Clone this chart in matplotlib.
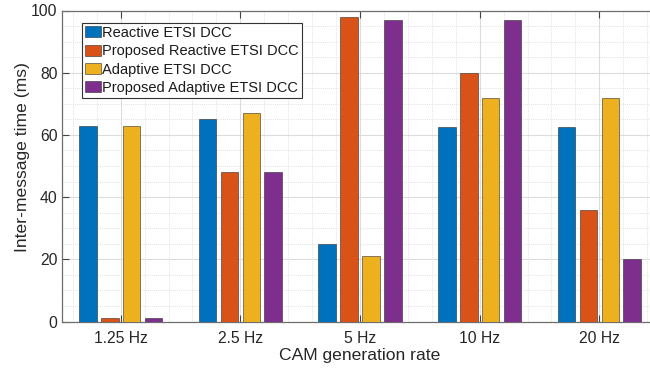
import matplotlib
matplotlib.use("Agg")
import matplotlib.pyplot as plt
import numpy as np
from matplotlib.ticker import MultipleLocator

plt.rcParams['font.family'] = ['Liberation Sans', 'DejaVu Sans']

rates = ["1.25 Hz", "2.5 Hz", "5 Hz", "10 Hz", "20 Hz"]
reactive = [63, 65, 25, 62.5, 62.5]
proposed_reactive = [1, 48, 98, 80, 36]
adaptive = [63, 67, 21, 72, 72]
proposed_adaptive = [1, 48, 97, 97, 20]

series = [
    ("Reactive ETSI DCC", reactive, "#0072BD"),
    ("Proposed Reactive ETSI DCC", proposed_reactive, "#D95319"),
    ("Adaptive ETSI DCC", adaptive, "#EDB120"),
    ("Proposed Adaptive ETSI DCC", proposed_adaptive, "#7E2F8E"),
]

W, H = 650, 372
fig = plt.figure(figsize=(W / 100, H / 100), dpi=100)
left, right, top, bottom = 62.3, 658.0, 10.5, 321.5
ax = fig.add_axes([left / W, 1 - bottom / H, (right - left) / W, (bottom - top) / H])

x = np.arange(1, len(rates) + 1)
step = 0.183
width = 0.147
for i, (name, vals, col) in enumerate(series):
    ax.bar(x + (i - 1.5) * step, vals, width, color=col, label=name,
           edgecolor=(0.15, 0.15, 0.15, 0.55), linewidth=0.7, zorder=3)

ax.set_xlim(0.512, 5.49)
ax.set_ylim(0, 100)
ax.set_xticks(x)
ax.set_xticklabels(rates)
ax.yaxis.set_major_locator(MultipleLocator(20))
ax.yaxis.set_minor_locator(MultipleLocator(5))
ax.xaxis.set_minor_locator(MultipleLocator(0.2))

ax.grid(which='major', color='#dcdcdc', linewidth=0.8, linestyle='-', zorder=0)
ax.grid(which='minor', color='#d8d8d8', linewidth=0.6, linestyle=(0, (1, 1.5)), zorder=0)
ax.set_axisbelow(True)

spine_col = '#6e6e6e'
for s in ax.spines.values():
    s.set_color(spine_col)
    s.set_linewidth(0.9)
ax.tick_params(which='major', direction='in', length=5, width=0.8, color='#444444',
               top=True, right=True, labelsize=11.3, labelcolor='#262626')
ax.tick_params(which='minor', length=0, top=True, right=True)
ax.tick_params(axis='x', pad=7)

ax.set_xlabel("CAM generation rate", fontsize=12.6, color='#262626', labelpad=1)
ax.set_ylabel("Inter-message time (ms)", fontsize=12.6, color='#262626')
ax.yaxis.set_label_coords(-0.054, 0.529)

leg = ax.legend(loc='upper left', bbox_to_anchor=(0.033, 0.960), fontsize=10.5,
                frameon=True, fancybox=False, borderpad=0.2, labelspacing=0.3,
                handlelength=1.1, handleheight=0.8, handletextpad=0.1,
                borderaxespad=0.0, framealpha=1.0)
leg.get_frame().set_edgecolor('#333333')
leg.get_frame().set_linewidth(0.8)
for t in leg.get_texts():
    t.set_color('#1a1a1a')

fig.savefig("out.png", dpi=100)
